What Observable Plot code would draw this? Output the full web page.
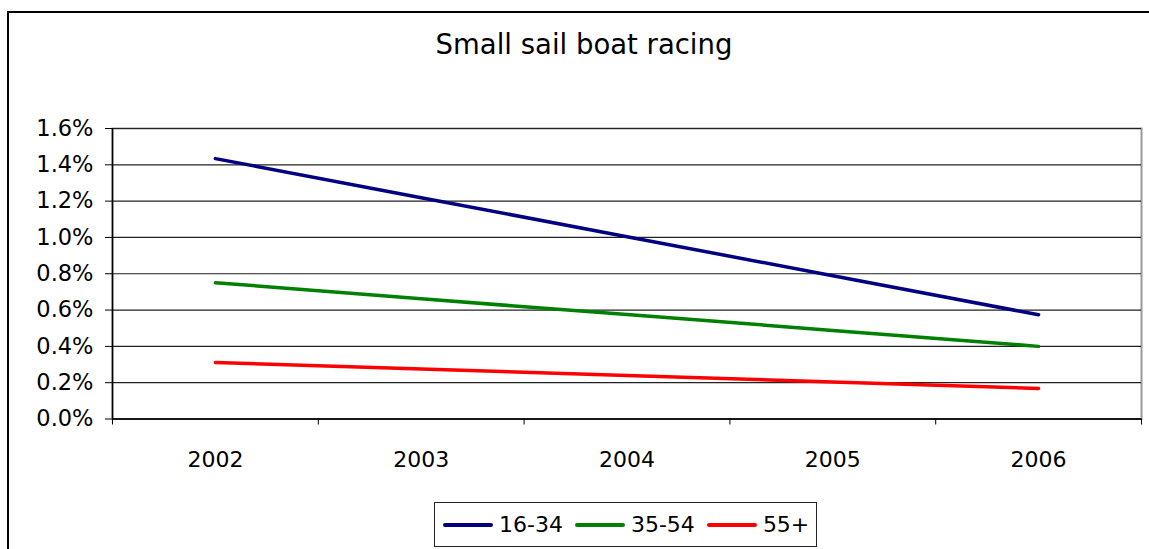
<!DOCTYPE html>
<html>
<head>
<meta charset="utf-8">
<script src="https://cdn.jsdelivr.net/npm/d3@7"></script>
<script src="https://cdn.jsdelivr.net/npm/@observablehq/plot@0.6"></script>
<style>
  html, body { margin: 0; padding: 0; background: #fff; }
  #wrap { position: relative; width: 1149px; height: 549px; overflow: hidden; font-family: "DejaVu Sans", sans-serif; color: #000; }
  #frame { position: absolute; left: 7px; top: 11px; width: 1300px; height: 700px; border-left: 2px solid #000; border-top: 2px solid #000; }
  #title { position: absolute; left: 0; top: 27px; width: 1168px; text-align: center; font-size: 27.5px; line-height: 34px; }
  #chart { position: absolute; left: 0; top: 0; }
  #legend { position: absolute; left: 434px; top: 502px; width: 383px; height: 45px; border: 1.5px solid #222; box-sizing: border-box; display: flex; align-items: center; padding-left: 8px; font-size: 22px; white-space: nowrap; }
  .item { display: flex; align-items: center; margin-right: 12px; flex-shrink: 0; }
  .sw { width: 50px; height: 4px; border-radius: 2px; margin-right: 6px; flex-shrink: 0; }
</style>
</head>
<body>
<div id="wrap">
  <div id="frame"></div>
  <div id="title">Small sail boat racing</div>
  <div id="chart"></div>
  <div id="legend"></div>
</div>
<script>
const years = [2002, 2003, 2004, 2005, 2006];
const seriesNames = ["16-34", "35-54", "55+"];
const seriesColors = ["#000080", "#008000", "#ff0000"];
const values1634 = [0.01434, 0.01219, 0.01004, 0.00789, 0.00574];
const values3554 = [0.00751, 0.00662, 0.00575, 0.00488, 0.00400];
const values55 = [0.00311, 0.00275, 0.00240, 0.00204, 0.00168];
const yTicks = [0, 0.002, 0.004, 0.006, 0.008, 0.010, 0.012, 0.014, 0.016];

const seriesValues = [values1634, values3554, values55];
const data = [];
seriesNames.forEach((s, i) => years.forEach((y, j) => data.push({series: s, year: y, value: seriesValues[i][j]})));

const xDomain = [years[0] - 0.5, years[years.length - 1] + 0.5];
const boundaries = years.map(y => y - 0.5).concat([years[years.length - 1] + 0.5]);

const chart = Plot.plot({
  width: 1149,
  height: 549,
  marginLeft: 112,
  marginRight: 8,
  marginTop: 128,
  marginBottom: 130.5,
  style: {fontFamily: "DejaVu Sans, sans-serif", fontSize: "22px", background: "transparent", color: "#000", overflow: "visible"},
  x: {domain: xDomain, axis: null, label: null},
  y: {domain: [0, 0.016], axis: null, label: null},
  color: {domain: seriesNames, range: seriesColors},
  marks: [
    Plot.frame({stroke: "#999", strokeWidth: 2}),
    Plot.gridY(yTicks, {stroke: "#222", strokeOpacity: 1, strokeWidth: 1.2}),
    Plot.ruleY([0], {stroke: "#000", strokeWidth: 1.5}),
    Plot.ruleX([xDomain[0]], {stroke: "#000", strokeWidth: 1.5}),
    Plot.axisY(yTicks, {tickFormat: d3.format(".1%"), tickSize: 7, tickPadding: 12, fontSize: 22.5, stroke: "#000", label: null}),
    Plot.axisX(boundaries, {tickSize: 6, tickFormat: () => "", stroke: "#000", label: null}),
    Plot.axisX(years, {tickSize: 0, tickPadding: 32, tickFormat: d => String(d), fontSize: 22, label: null}),
    Plot.line(data, {x: "year", y: "value", z: "series", stroke: "series", strokeWidth: 3.5, strokeLinecap: "round"})
  ]
});
document.getElementById("chart").appendChild(chart);

const legend = document.getElementById("legend");
seriesNames.forEach((s, i) => {
  const item = document.createElement("div");
  item.className = "item";
  const sw = document.createElement("div");
  sw.className = "sw";
  sw.style.background = seriesColors[i];
  const t = document.createElement("span");
  t.textContent = s;
  item.appendChild(sw);
  item.appendChild(t);
  legend.appendChild(item);
});
</script>
</body>
</html>
